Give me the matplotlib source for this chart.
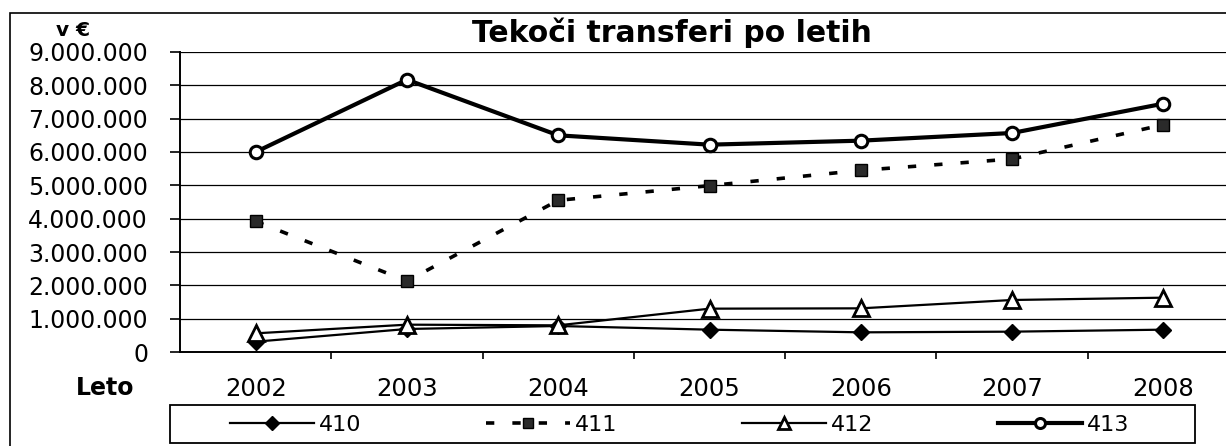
import matplotlib
matplotlib.use("Agg")
import matplotlib.pyplot as plt
from matplotlib.ticker import FuncFormatter, FixedLocator
from matplotlib.patches import Rectangle

plt.rcParams['font.family'] = ['DejaVu Sans']

years = ["2002", "2003", "2004", "2005", "2006", "2007", "2008"]
s410 = [310000, 690000, 780000, 670000, 590000, 610000, 670000]
s411 = [3920000, 2130000, 4550000, 4990000, 5450000, 5790000, 6820000]
s412 = [560000, 820000, 800000, 1300000, 1310000, 1560000, 1630000]
s413 = [6000000, 8170000, 6500000, 6220000, 6340000, 6570000, 7450000]
yticks = [0, 1000000, 2000000, 3000000, 4000000, 5000000, 6000000, 7000000, 8000000, 9000000]

W, H = 1226, 446
fig = plt.figure(figsize=(W / 100, H / 100), dpi=100)
ax = fig.add_axes([180 / W, 94 / H, (1239 - 180) / W, 300 / H])

x = list(range(len(years)))

ax.plot(x, s410, color='black', lw=1.6, marker='D', markersize=8.5,
        markerfacecolor='black', markeredgecolor='black', label='410', zorder=4)
ax.plot(x, s411, color='black', lw=2.6, dashes=(2.3, 5.0), marker='s', markersize=8.5,
        markerfacecolor='#2a2a2a', markeredgecolor='black', label='411', zorder=4)
ax.plot(x, s412, color='black', lw=1.6, marker='^', markersize=11,
        markerfacecolor='white', markeredgecolor='black', markeredgewidth=2, label='412', zorder=4)
ax.plot(x, s413, color='black', lw=3.0, marker='o', markersize=9,
        markerfacecolor='white', markeredgecolor='black', markeredgewidth=2.2, label='413', zorder=5)

ax.set_xlim(-0.5, 6.5)
ax.set_ylim(0, 9000000)
ax.set_yticks(yticks)
ax.yaxis.set_major_formatter(FuncFormatter(lambda v, p: f"{int(v):,}".replace(",", ".")))
ax.tick_params(axis='y', length=7, width=1.2, pad=16, labelsize=17, direction='out')

ax.set_xticks(x)
ax.set_xticklabels(years)
ax.xaxis.set_minor_locator(FixedLocator([i + 0.5 for i in range(len(years) - 1)]))
ax.tick_params(axis='x', which='major', length=0, pad=18, labelsize=17.5)
ax.tick_params(axis='x', which='minor', length=5, width=1.2, direction='out')

ax.grid(axis='y', color='black', lw=0.9)
for side in ['top', 'right']:
    ax.spines[side].set_visible(False)
ax.spines['left'].set_linewidth(1.4)
ax.spines['bottom'].set_linewidth(1.4)
ax.set_axisbelow(True)

fig.text(672 / W, 1 - 33 / H, "Tekoči transferi po letih", ha='center', va='center',
         fontsize=21.5, fontweight='bold')
fig.text(73 / W, 1 - 31 / H, "v €", ha='center', va='center', fontsize=14.5, fontweight='bold')
fig.text(105 / W, 1 - 388 / H, "Leto", ha='center', va='center', fontsize=17, fontweight='bold')

# outer chart border
fig.patches.append(Rectangle((10 / W, -0.05), 1.2, 1 - 13 / H + 0.05, transform=fig.transFigure,
                             fill=False, edgecolor='black', lw=1.2))
# legend box
fig.patches.append(Rectangle((170 / W, 3 / H), 1025 / W, 38 / H, transform=fig.transFigure,
                             fill=False, edgecolor='black', lw=1.3))

leg = fig.legend(loc='lower left', bbox_to_anchor=(222 / W, 3 / H, 915 / W, 38 / H),
                 mode='expand', ncol=4, fontsize=16, frameon=False,
                 borderaxespad=0, borderpad=0.35, handlelength=3.8, handletextpad=0.2,
                 markerscale=0.8)

fig.savefig("out.png", dpi=100)
